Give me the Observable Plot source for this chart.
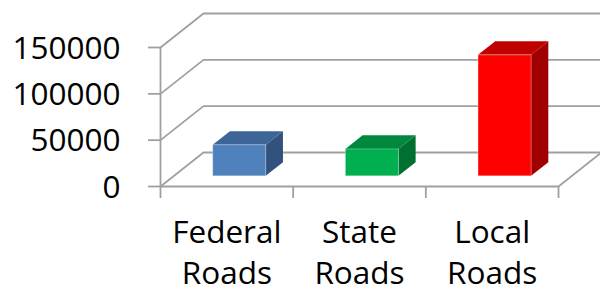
<!DOCTYPE html>
<html>
<head>
<meta charset="utf-8">
<script src="https://cdn.jsdelivr.net/npm/d3@7"></script>
<script src="https://cdn.jsdelivr.net/npm/@observablehq/plot@0.6"></script>
<style>
  html, body { margin: 0; padding: 0; background: #fff; }
  #chart svg { display: block; }
</style>
</head>
<body>
<div id="chart"></div>
<script>
// ---- data ----
const categories = ["Federal Roads", "State Roads", "Local Roads"];
const categoryLabels = ["Federal\nRoads", "State\nRoads", "Local\nRoads"];
const values = [33500, 29000, 130500];
const yTicks = [0, 50000, 100000, 150000];
const frontColors = ["#4F81BD", "#00B050", "#FF0000"];
const topColors = ["#3D6597", "#00893E", "#C00000"];
const sideColors = ["#30527D", "#007030", "#A00000"];

// ---- layout ----
const W = 600, H = 293;
const mL = 160, mR = 42, mT = 47, mB = 107;
const yMax = 150000;
const kx = (W - mL - mR) / categories.length; // px per category unit
const ky = (H - mT - mB) / yMax;              // px per value unit
const depthPx = {x: 43, y: 34};              // full 3D depth vector (px)
const DXu = depthPx.x / kx, DYu = depthPx.y / ky;
const barFront = 0.3, barDepth = 0.4, barWidth = 0.4;
const tickLen = 12;
const gridColor = "#A0A0A0";
const fontSize = 31.5;

const bars = categories.map((c, i) => ({c, i, v: values[i], label: categoryLabels[i]}));

// front face geometry in data units
const fx = barFront * DXu, fy = barFront * DYu;
const bx = barDepth * DXu, by = barDepth * DYu;
const xl = d => d.i + (1 - barWidth) / 2 + fx;
const xr = d => d.i + (1 + barWidth) / 2 + fx;

const sidePts = bars.flatMap(d => [
  {i: d.i, x: xr(d), y1: fy, y2: d.v + fy},
  {i: d.i, x: xr(d) + bx, y1: fy + by, y2: d.v + fy + by}
]);
const topPts = bars.flatMap(d => [
  {i: d.i, y: d.v + fy, xa: xl(d), xb: xr(d)},
  {i: d.i, y: d.v + fy + by, xa: xl(d) + bx, xb: xr(d) + bx}
]);

const n = categories.length;
const wallLines = yTicks.flatMap(t => [
  {t, x: 0, y: t},
  {t, x: DXu, y: t + DYu},
  {t, x: n + DXu, y: t + DYu}
]);
const floorFront = [{x: 0, y: 0}, {x: n, y: 0}, {x: n + DXu, y: DYu}];
const boundaries = d3.range(n + 1);

const chart = Plot.plot({
  width: W,
  height: H,
  marginLeft: mL, marginRight: mR, marginTop: mT, marginBottom: mB,
  x: {domain: [0, n], axis: null},
  y: {domain: [0, yMax], axis: null},
  color: {type: "identity"},
  style: {fontFamily: "'Open Sans', Lato, sans-serif", fontSize: fontSize + "px", color: "black", background: "white", overflow: "visible"},
  marks: [
    Plot.line(wallLines, {x: "x", y: "y", z: "t", stroke: gridColor, strokeWidth: 1.8}),
    Plot.line(floorFront, {x: "x", y: "y", stroke: gridColor, strokeWidth: 1.8}),
    Plot.ruleX([0], {y1: 0, y2: yMax, stroke: gridColor, strokeWidth: 1.8}),
    Plot.ruleX(boundaries, {x: d => d, y1: 0, y2: -tickLen / ky, stroke: gridColor, strokeWidth: 1.8}),
    Plot.ruleY(yTicks, {y: d => d, x1: 0, x2: -tickLen / kx, stroke: gridColor, strokeWidth: 1.8}),
    Plot.text(yTicks, {x: 0, y: d => d, text: d => String(d), textAnchor: "end", dx: -40, dy: 1, fill: "black", fontSize}),
    Plot.text(bars, {x: d => d.i + 0.5, y: 0, text: "label", lineAnchor: "top", dy: 27, lineHeight: 1.3, textAnchor: "middle", fill: "black", fontSize}),
    // 3D bars
    Plot.area(sidePts, {x1: "x", y1: "y1", y2: "y2", z: "i", fill: d => sideColors[d.i]}),
    Plot.area(topPts, {y1: "y", x1: "xa", x2: "xb", z: "i", fill: d => topColors[d.i]}),
    Plot.rect(bars, {x1: xl, x2: xr, y1: fy, y2: d => d.v + fy, fill: d => frontColors[d.i], stroke: "white", strokeOpacity: 0.3, strokeWidth: 1})
  ]
});
document.getElementById("chart").append(chart);
</script>
</body>
</html>
